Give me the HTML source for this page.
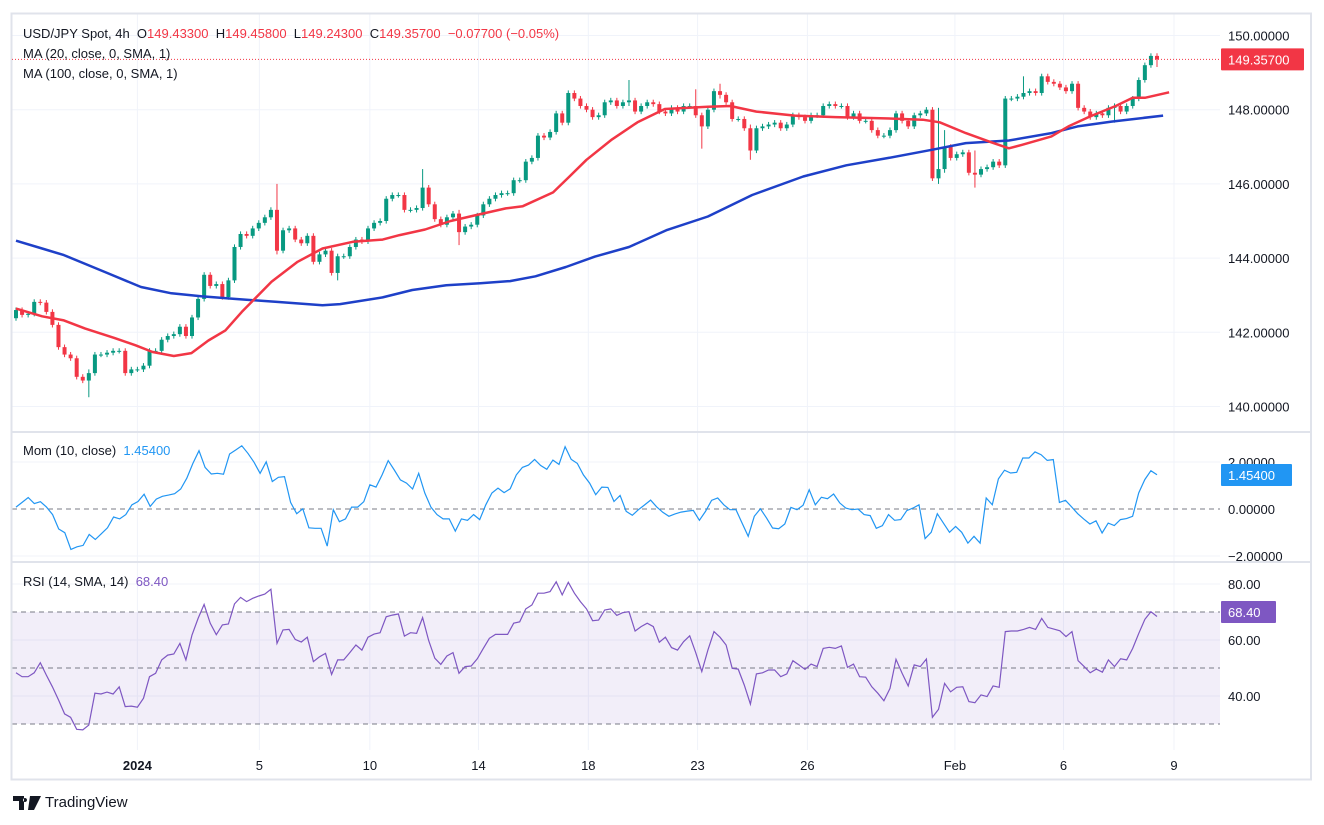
<!DOCTYPE html>
<html><head><meta charset="utf-8">
<style>
html,body{margin:0;padding:0;background:#fff;}
body{width:1324px;height:825px;overflow:hidden;position:relative;font-family:"Liberation Sans",sans-serif;}
svg{position:absolute;left:0;top:0;}
text{font-family:"Liberation Sans",sans-serif;}
</style></head>
<body>
<svg id="chart" width="1324" height="825"></svg>
<script>
// ---- data ----
const closes = [142.6,142.47,142.5,142.82,142.8,142.55,142.2,141.6,141.4,141.3,140.8,140.7,140.9,141.4,141.4,141.45,141.5,141.5,140.9,141.0,141.0,141.1,141.5,141.5,141.8,141.9,141.95,142.15,141.9,142.4,142.9,143.55,143.25,143.3,142.95,143.4,144.3,144.65,144.6,144.8,144.95,145.1,145.3,144.2,144.75,144.8,144.5,144.4,144.6,143.9,144.1,144.2,143.6,144.05,144.05,144.3,144.5,144.45,144.8,144.95,145.0,145.6,145.7,145.7,145.3,145.3,145.35,145.9,145.45,145.05,144.9,145.1,145.2,144.7,144.85,144.9,145.15,145.45,145.6,145.7,145.75,145.75,146.1,146.1,146.6,146.7,147.3,147.25,147.4,147.9,147.65,148.45,148.3,148.1,148.0,147.8,147.85,148.2,148.25,148.1,148.2,148.25,147.95,148.1,148.2,148.15,147.95,147.9,148.05,147.95,148.1,148.1,147.85,147.55,148.0,148.5,148.4,148.2,147.75,147.75,147.5,146.9,147.5,147.55,147.6,147.65,147.5,147.6,147.85,147.8,147.7,147.85,147.85,148.1,148.15,148.1,148.1,147.8,147.9,147.7,147.7,147.45,147.3,147.3,147.45,147.9,147.7,147.55,147.85,147.9,148.0,146.15,146.4,147.0,146.7,146.8,146.85,146.3,146.25,146.4,146.45,146.6,146.5,148.3,148.3,148.35,148.45,148.5,148.45,148.9,148.75,148.7,148.6,148.5,148.7,148.05,147.95,147.8,147.9,147.85,148.05,148.1,147.95,148.1,148.3,148.8,149.2,149.45,149.357];
const firstOpen = 142.38;
// notable wicks: [candle index, high, low]
const bigWicks = [[12,141.0,140.25],[43,146.0,144.1],[53,144.1,143.4],[67,146.4,145.4],[73,145.3,144.35],[101,148.8,148.1],[112,148.55,147.8],[113,147.9,146.95],[116,148.7,148.3],[121,147.6,146.65],[151,148.05,147.85],[152,148.05,146.0],[153,147.45,146.3],[158,146.9,145.9],[166,148.9,148.3],[181,148.15,147.65],[188,149.5,149.15]];
const ma20 = [[0,142.64],[4.3,142.43],[7.9,142.32],[11.4,142.1],[16.2,141.85],[19.7,141.65],[22.5,141.47],[26,141.36],[28.9,141.44],[31.7,141.78],[34.5,142.05],[37.2,142.55],[42.1,143.36],[46.4,143.9],[50.5,144.26],[55.5,144.44],[60.4,144.5],[63.2,144.62],[67.4,144.77],[71.6,145.0],[75.8,145.16],[80.7,145.34],[83.5,145.4],[88.5,145.77],[91.2,146.2],[94,146.65],[98.2,147.2],[102.4,147.66],[106.9,148.02],[114,148.08],[117.7,148.1],[122,147.95],[128.3,147.84],[135,147.8],[142.4,147.77],[149.4,147.73],[152.2,147.66],[156.5,147.37],[160.7,147.12],[163.6,146.96],[165.7,147.05],[170.6,147.28],[173.4,147.55],[177,147.82],[181.2,148.1],[184,148.32],[186,148.32],[190,148.47]];
const ma100 = [[0,144.47],[4.3,144.26],[7.9,144.08],[15,143.6],[20.6,143.22],[25.6,143.05],[30.5,142.97],[36,142.9],[43,142.82],[50.5,142.73],[53.4,142.76],[60.4,142.94],[65.3,143.14],[70.9,143.27],[76.5,143.32],[81.4,143.38],[85.6,143.51],[90.6,143.76],[95.4,144.04],[101,144.3],[107.3,144.76],[114,145.12],[121.3,145.7],[129.7,146.2],[136.8,146.5],[143.8,146.7],[150.9,146.92],[156.5,147.1],[163.6,147.17],[170.6,147.37],[174.9,147.55],[180.5,147.68],[189,147.84]];
const momVals = [0.08,0.28,0.49,0.23,0.31,0.08,-0.24,-0.85,-1.01,-1.72,-1.61,-1.55,-1.08,-1.3,-1.05,-0.8,-0.34,-0.42,-0.24,0.18,0.32,0.63,0.11,0.42,0.54,0.59,0.65,0.85,1.31,1.94,2.48,1.77,1.49,1.52,1.48,2.34,2.51,2.69,2.37,1.99,1.52,2.01,1.17,1.35,1.38,0.28,-0.2,0.01,-0.8,-0.82,-0.82,-1.58,-0.03,-0.54,-0.42,0.08,0.08,0.31,1.03,0.93,1.45,2.06,1.66,1.24,1.1,0.85,1.52,0.68,0.08,-0.24,-0.42,-0.42,-0.94,-0.42,-0.48,-0.24,-0.45,0.18,0.68,0.89,0.7,0.86,1.45,1.77,1.87,2.11,1.85,1.69,2.08,1.9,2.65,2.11,1.94,1.45,1.1,0.61,0.93,0.92,0.32,
0.58,-0.1,-0.27,-0.03,0.17,0.38,0.09,-0.14,-0.31,-0.21,-0.13,-0.09,-0.06,-0.48,-0.1,0.37,0.47,0.18,-0.03,-0.03,-0.6,-1.16,-0.31,0.01,-0.38,-0.81,-0.84,-0.64,0.07,-0.03,0.16,0.82,0.18,0.5,0.44,0.64,0.26,0.04,-0.03,0,-0.24,-0.28,-0.82,-0.71,-0.24,-0.48,-0.45,-0.07,0.04,0.18,-1.26,-0.99,-0.2,-0.6,-0.99,-0.74,-0.99,-1.45,-1.16,-1.45,0.47,0.18,1.28,1.65,1.53,1.56,2.17,2.17,2.43,2.31,2.07,2.1,0.28,0.37,0.09,-0.2,-0.43,-0.64,-0.5,-1.02,-0.6,-0.7,-0.45,-0.41,-0.31,0.68,1.25,1.63,1.454];
const rsiVals = [48.3,46.9,46.9,48.3,51.9,47.5,43.3,38.6,33.6,32.4,28.1,27.9,29.6,41,40.7,41.4,40.7,43.3,36.2,36.4,36,39.2,46.9,48.1,52.9,54.6,55,58.8,52.9,61.8,67.7,72.7,66,61.9,65.4,65.7,72.9,75.2,73.7,74.9,75.7,76.4,78.1,58.8,63.6,63.8,60.2,59.3,61,52.3,54,55.2,47.7,52.9,52.9,55.5,58.2,56.4,61,62.1,62.6,68.3,68.9,69.3,61.4,62.6,62.4,68,59.8,53.5,51.3,54.3,55.5,48.1,50.5,50.7,53.3,57,60.6,62,62,62,66,66.5,71.1,72.5,76.7,76.7,77.3,80.8,76.1,80.6,76.7,73.7,71.1,66.9,67.1,70.7,71.1,68.8,
69.8,70.1,63.2,64.8,66,64.8,59.2,61,57.3,56.4,59.4,61.5,55.5,48.7,56.4,63,61,58.2,49.9,49.6,43.9,37.1,47.9,48.3,49.3,49.3,46.9,47.9,52.6,51.1,49.5,51.4,50.5,57,57.4,57,57.9,50.2,51.4,46.9,46.7,43.3,41,38.3,42.7,53.1,48.1,43.6,51.1,50.5,53.2,32.4,35.2,44.5,41.5,43.1,43.3,38,37.6,40.4,39.8,43.6,43.1,63,63.2,63.2,63.8,64.5,63.8,67.7,64.5,63.9,63.3,61.2,63,52.6,50.5,48.3,49.6,48.5,52.9,50.5,53.3,52.9,57,62.4,67.4,70.1,68.4];
const priceTicks = [150,148,146,144,142,140];
const momTicks = [2,0,-2];
const rsiTicks = [80,60,40];
const dateLabels = ["2024","5","10","14","18","23","26","Feb","6","9"];
const dateCandle = [20.0,40.1,58.3,76.2,94.3,112.3,130.4,154.7,172.6,190.8];

// ---- axes ----
const X0 = 16, X1 = 1157;
const xc = i => X0 + i * (X1 - X0) / (closes.length - 1);
const xs = (i, n) => X0 + i * (X1 - X0) / (n - 1);
const yP = v => 35.5 + (150 - v) * 37.1;
const yM = v => 509 - v * 23.5;
const yR = v => 668 - (v - 50) * 2.8;
const NS = "http://www.w3.org/2000/svg";
const svg = document.getElementById('chart');
function mk(tag, attrs, parent) {
  const e = document.createElementNS(NS, tag);
  for (const k in attrs) e.setAttribute(k, attrs[k]);
  (parent || svg).appendChild(e);
  return e;
}
const PL = 12, PR = 1220, AR = 1311;
// grid
const grid = mk('g', {});


priceTicks.forEach(v => mk('line', {x1: PL, x2: PR, y1: yP(v), y2: yP(v), stroke: '#f0f3fa'}, grid));
mk('line', {x1: PL, x2: PR, y1: yM(2), y2: yM(2), stroke: '#f0f3fa'}, grid);
mk('line', {x1: PL, x2: PR, y1: yM(-2), y2: yM(-2), stroke: '#f0f3fa'}, grid);
[80, 60, 40].forEach(v => mk('line', {x1: PL, x2: PR, y1: yR(v), y2: yR(v), stroke: '#f0f3fa'}, grid));
dateCandle.forEach(c => mk('line', {x1: xc(c), x2: xc(c), y1: 14, y2: 750, stroke: '#f0f3fa'}, grid));

// rsi band
const band = mk('rect', {x: PL, y: yR(70), width: PR - PL, height: yR(30) - yR(70), fill: 'rgba(126,87,194,0.1)'});


[70, 50, 30].forEach(v => {
  const l = mk('line', {x1: PL, x2: PR, y1: yR(v), y2: yR(v), stroke: '#787b86', 'stroke-dasharray': '5 4'});
  
  
});
const zl = mk('line', {x1: PL, x2: PR, y1: yM(0), y2: yM(0), stroke: '#787b86', 'stroke-dasharray': '5 4'});



// borders
const frame = mk('g', {});


mk('rect', {x: 11.5, y: 13.5, width: AR - 11.5, height: 766, fill: 'none', stroke: '#e0e3eb', 'stroke-width': 2}, frame);
mk('line', {x1: 12, x2: AR, y1: 432, y2: 432, stroke: '#e0e3eb', 'stroke-width': 2}, frame);
mk('line', {x1: 12, x2: AR, y1: 562, y2: 562, stroke: '#e0e3eb', 'stroke-width': 2}, frame);

// candles
const cg = mk('g', {});


closes.forEach((c, i) => {
  const o = i === 0 ? firstOpen : closes[i - 1];
  let hi = Math.max(o, c) + 0.07, lo = Math.min(o, c) - 0.07;
  bigWicks.forEach(w => { if (w[0] === i) { hi = Math.max(hi, w[1]); lo = Math.min(lo, w[2]); } });
  const col = c >= o ? '#089981' : '#f23645';
  const x = xc(i);
  const g = mk('g', {}, cg);
  
  
  mk('line', {x1: x, x2: x, y1: yP(hi), y2: yP(lo), stroke: col, 'stroke-width': 1}, g);
  const top = yP(Math.max(o, c)), h = Math.max(1, yP(Math.min(o, c)) - top);
  mk('rect', {x: x - 2, y: top, width: 4, height: h, fill: col}, g);
});
function pathPairs(arr, fy) {
  return arr.map((p, k) => (k ? 'L' : 'M') + xc(p[0]).toFixed(1) + ' ' + fy(p[1]).toFixed(1)).join(' ');
}
function pathVals(arr, fy) {
  return arr.map((v, k) => (k ? 'L' : 'M') + xs(k, arr.length).toFixed(1) + ' ' + fy(v).toFixed(1)).join(' ');
}
const m100 = mk('path', {d: pathPairs(ma100, yP), fill: 'none', stroke: '#1e40c8', 'stroke-width': 2.5, 'stroke-linejoin': 'round'});


const m20 = mk('path', {d: pathPairs(ma20, yP), fill: 'none', stroke: '#f23645', 'stroke-width': 2.5, 'stroke-linejoin': 'round'});


const momL = mk('path', {d: pathVals(momVals, yM), fill: 'none', stroke: '#2196f3', 'stroke-width': 1.2});


const rsiL = mk('path', {d: pathVals(rsiVals, yR), fill: 'none', stroke: '#7e57c2', 'stroke-width': 1.2});



// last price line
const lastC = closes[closes.length - 1];
const lp = mk('line', {x1: PL, x2: PR, y1: yP(lastC), y2: yP(lastC), stroke: '#f23645', 'stroke-dasharray': '1 2'});



// axis labels
function txt(s, x, y, attrs, name) {
  const t = mk('text', Object.assign({x: x, y: y, 'font-size': 13, fill: '#131722'}, attrs));
  t.textContent = s;
  
  
  return t;
}
priceTicks.forEach(v => txt(v.toFixed(5), 1228, yP(v) + 5, {}, 'price-tick'));
momTicks.forEach(v => txt((v < 0 ? '\u2212' : '') + Math.abs(v).toFixed(5), 1228, yM(v) + 5, {}, 'momentum-tick'));
rsiTicks.forEach(v => txt(v.toFixed(2), 1228, yR(v) + 5, {}, 'rsi-tick'));
dateLabels.forEach((s, k) => txt(s, xc(dateCandle[k]), 770, {'text-anchor': 'middle', 'font-weight': s === '2024' ? 'bold' : 'normal'}, 'date-label'));

function badge(s, y, col, w, name) {
  const g = mk('g', {});
  
  
  mk('rect', {x: 1221, y: y - 11, width: w, height: 22, fill: col, rx: 1}, g);
  const t = mk('text', {x: 1228, y: y + 5, 'font-size': 13, fill: '#fff'}, g);
  t.textContent = s;
}
badge(lastC.toFixed(5), yP(lastC), '#f23645', 83, 'last-price-badge');
badge(momVals[momVals.length - 1].toFixed(5), 475, '#2196f3', 71, 'momentum-value-badge');
badge(rsiVals[rsiVals.length - 1].toFixed(2), 612, '#7e57c2', 55, 'rsi-value-badge');
</script>
<div style="position:absolute;left:23px;top:24px;font-size:13px;color:#131722;line-height:20px;">
  <div>USD/JPY Spot, 4h&nbsp; O<span style="color:#f23645">149.43300</span>&nbsp; H<span style="color:#f23645">149.45800</span>&nbsp; L<span style="color:#f23645">149.24300</span>&nbsp; C<span style="color:#f23645">149.35700</span>&nbsp; <span style="color:#f23645">−0.07700 (−0.05%)</span></div>
  <div>MA (20, close, 0, SMA, 1)</div>
  <div>MA (100, close, 0, SMA, 1)</div>
</div>
<div style="position:absolute;left:23px;top:443px;font-size:13px;color:#131722;">Mom (10, close)&nbsp;&nbsp;<span style="color:#2196f3">1.45400</span></div>
<div style="position:absolute;left:23px;top:574px;font-size:13px;color:#131722;">RSI (14, SMA, 14)&nbsp;&nbsp;<span style="color:#7e57c2">68.40</span></div>
<div style="position:absolute;left:13px;top:794px;font-size:15px;color:#131722;display:flex;align-items:center;">
  <svg width="28" height="14" style="position:static;margin-right:4px"><path d="M0 0h11v14h-5v-9h-6z M12 2a2 2 0 1 0 0.01 0z M17 0h11l-7 14h-6z" fill="#131722"/></svg>
  <span>TradingView</span>
</div>
</body></html>
